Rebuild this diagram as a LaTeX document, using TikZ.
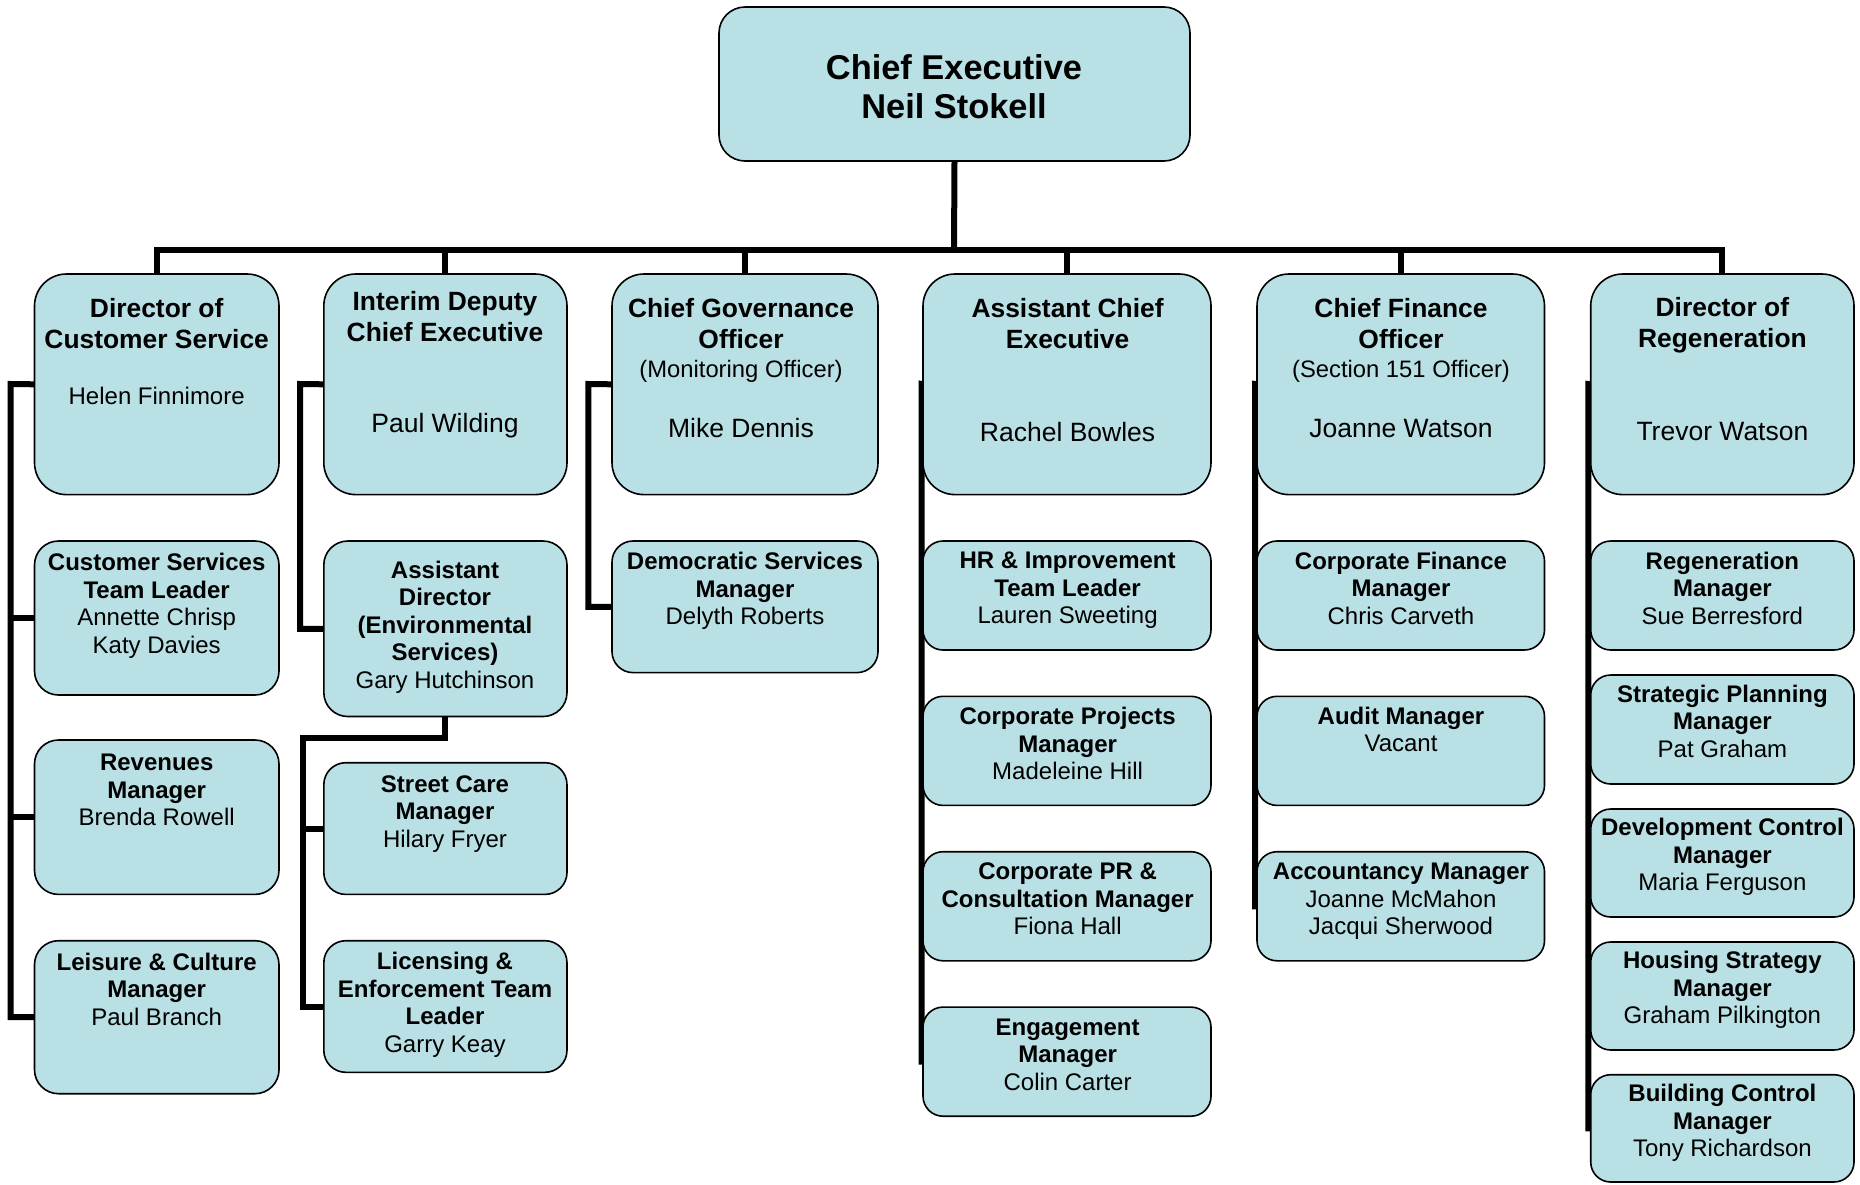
\documentclass[tikz,border=0pt]{standalone}
\usepackage{fontspec}
\setmainfont{Liberation Sans}
\definecolor{boxfill}{RGB}{185,224,228}
\pgfdeclarelayer{bg}
\pgfsetlayers{bg,main}
\tikzset{
  orgbox/.style={draw=black, fill=boxfill, line width=1.6pt, inner sep=0pt, outer sep=0pt},
  conn/.style={draw=black, line width=6pt, line join=miter},
  cetxt/.style={font=\fontsize{34.4}{39}\selectfont\bfseries, align=center},
  ttl/.style={font=\fontsize{26.4}{30.8}\selectfont\bfseries, align=center},
  nm/.style={font=\fontsize{26.5}{30}\selectfont},
  nms/.style={font=\fontsize{24}{28}\selectfont},
  subt/.style={font=\fontsize{23.8}{28}\selectfont},
  ltwo/.style={font=\fontsize{24}{27.5}\selectfont, align=center},
}
\newcommand{\obox}[6]{%
  \pgfmathsetmacro\obw{#4-#2}%
  \pgfmathsetmacro\obh{#5-#3}%
  \node[orgbox, rounded corners=#6pt, minimum width=\obw pt, minimum height=\obh pt] (#1) at ({(#2+#4)/2},{(#3+#5)/2}) {};}
\begin{document}
\begin{tikzpicture}[x=1pt,y=-1pt]
\useasboundingbox (0,0) rectangle (1860,1184);

% ---------- boxes ----------
\obox{ce}{719}{7}{1190}{161}{26}
\obox{dcs}{34.5}{274}{279}{494.6}{32}
\obox{idce}{323.8}{274}{567}{494.6}{32}
\obox{cgo}{612}{274}{878}{494.6}{32}
\obox{ace}{923}{274}{1211}{494.6}{32}
\obox{cfo}{1257}{274}{1544.5}{494.6}{32}
\obox{dor}{1590.7}{274}{1854}{494.6}{32}

\obox{cstl}{34.5}{541}{279}{695}{24}
\obox{rev}{34.5}{740}{279}{894.4}{24}
\obox{lcm}{34.5}{940.7}{279}{1093.7}{24}

\obox{ad}{323.8}{541}{567}{716.5}{24}
\obox{sc}{323.8}{762.7}{567}{894.4}{22}
\obox{lic}{323.8}{940.7}{567}{1072.3}{22}

\obox{dsm}{612}{541}{878}{672.6}{21}

\obox{hr}{923}{541}{1211}{650}{20}
\obox{cp}{923}{696.3}{1211}{805.4}{20}
\obox{pr}{923}{851.7}{1211}{960.8}{20}
\obox{eng}{923}{1007.1}{1211}{1116.2}{20}

\obox{cf}{1257}{541}{1544.5}{650}{20}
\obox{aud}{1257}{696.3}{1544.5}{805.4}{20}
\obox{acc}{1257}{851.7}{1544.5}{960.8}{20}

\obox{reg}{1590.7}{541}{1854}{650}{20}
\obox{sp}{1590.7}{675}{1854}{784}{20}
\obox{dc}{1590.7}{809}{1854}{917}{20}
\obox{hs}{1590.7}{942}{1854}{1050}{20}
\obox{bc}{1590.7}{1074.7}{1854}{1182}{20}

% ---------- texts ----------
\node[cetxt] (ce-t) at (954,87.2) {Chief Executive\\Neil Stokell};

\node[ttl] (dcs-t) at (156.7,323.9) {Director of\\Customer Service};
\node[nms] (dcs-n) at (156.7,396.2) {Helen Finnimore};

\node[ttl] (idce-t) at (445,316.2) {Interim Deputy\\Chief Executive};
\node[nm] (idce-n) at (445,426) {Paul Wilding};

\node[ttl] (cgo-t) at (741,323.9) {Chief Governance\\Officer};
\node[subt] (cgo-s) at (741,371.4) {(Monitoring Officer)};
\node[nm] (cgo-n) at (741,428.2) {Mike Dennis};

\node[ttl] (ace-t) at (1067.6,323.9) {Assistant Chief\\Executive};
\node[nm] (ace-n) at (1067.6,431.8) {Rachel Bowles};

\node[ttl] (cfo-t) at (1401,323.9) {Chief Finance\\Officer};
\node[subt] (cfo-s) at (1401,371.4) {(Section 151 Officer)};
\node[nm] (cfo-n) at (1401,428.2) {Joanne Watson};

\node[ttl] (dor-t) at (1722.4,325.5) {Director of\\Regeneration};
\node[nm] (dor-n) at (1722.4,431.8) {Trevor Watson};

\node[ltwo] (cstl-t) at (156.7,606) {\textbf{Customer Services}\\\textbf{Team Leader}\\Annette Chrisp\\Katy Davies};
\node[ltwo] (rev-t) at (156.7,790) {\textbf{Revenues}\\\textbf{Manager}\\Brenda Rowell};
\node[ltwo] (lcm-t) at (156.7,989.3) {\textbf{Leisure \& Culture}\\\textbf{Manager}\\Paul Branch};

\node[ltwo] (ad-t) at (445,627) {\textbf{Assistant}\\\textbf{Director}\\\textbf{(Environmental}\\\textbf{Services)}\\Gary Hutchinson};
\node[ltwo] (sc-t) at (445,813.8) {\textbf{Street Care}\\\textbf{Manager}\\Hilary Fryer};
\node[ltwo] (lic-t) at (445,1004.8) {\textbf{Licensing \&}\\\textbf{Enforcement Team}\\\textbf{Leader}\\Garry Keay};

\node[ltwo] (dsm-t) at (745,590.8) {\textbf{Democratic Services}\\\textbf{Manager}\\Delyth Roberts};

\node[ltwo] (hr-t) at (1067.6,590.2) {\textbf{HR \& Improvement}\\\textbf{Team Leader}\\Lauren Sweeting};
\node[ltwo] (cp-t) at (1067.6,743.8) {\textbf{Corporate Projects}\\\textbf{Manager}\\Madeleine Hill};
\node[ltwo] (pr-t) at (1067.6,899.2) {\textbf{Corporate PR \&}\\\textbf{Consultation Manager}\\Fiona Hall};
\node[ltwo] (eng-t) at (1067.6,1054.5) {\textbf{Engagement}\\\textbf{Manager}\\Colin Carter};

\node[ltwo] (cf-t) at (1401,588.4) {\textbf{Corporate Finance}\\\textbf{Manager}\\Chris Carveth};
\node[ltwo] (aud-t) at (1401,729.5) {\textbf{Audit Manager}\\Vacant};
\node[ltwo] (acc-t) at (1401,901.6) {\textbf{Accountancy Manager}\\Joanne McMahon\\Jacqui Sherwood};

\node[ltwo] (reg-t) at (1722.4,588.4) {\textbf{Regeneration}\\\textbf{Manager}\\Sue Berresford};
\node[ltwo] (sp-t) at (1722.4,721.2) {\textbf{Strategic Planning}\\\textbf{Manager}\\Pat Graham};
\node[ltwo] (dc-t) at (1722.4,857) {\textbf{Development Control}\\\textbf{Manager}\\Maria Ferguson};
\node[ltwo] (hs-t) at (1722.4,990) {\textbf{Housing Strategy}\\\textbf{Manager}\\Graham Pilkington};
\node[ltwo] (bc-t) at (1722.4,1122.8) {\textbf{Building Control}\\\textbf{Manager}\\Tony Richardson};

% ---------- connectors ----------
\coordinate (bar) at (954,250.3);
\coordinate (v1) at (10.5,384);
\coordinate (v2) at (300,384);
\coordinate (v2b) at (302.5,737.8);
\coordinate (v3) at (588.4,384);
\coordinate (v4) at (921.5,384);
\coordinate (v5) at (1255,384);
\coordinate (v6) at (1588.3,384);

\begin{pgfonlayer}{bg}
\draw[conn] (ce.south) -- (bar);
\draw[conn] (dcs.north) -- (dcs.north |- bar) -- (dor.north |- bar) -- (dor.north);
\draw[conn] (idce.north) -- (idce.north |- bar);
\draw[conn] (cgo.north) -- (cgo.north |- bar);
\draw[conn] (ace.north) -- (ace.north |- bar);
\draw[conn] (cfo.north) -- (cfo.north |- bar);

\draw[conn] (dcs.west) -- (v1) |- (lcm.west);
\draw[conn] (cstl.west) -- (cstl.west -| v1);
\draw[conn] (rev.west) -- (rev.west -| v1);

\draw[conn] (idce.west) -- (v2) |- (ad.west);
\draw[conn] (ad.south) |- (v2b) |- (lic.west);
\draw[conn] (sc.west) -- (sc.west -| v2b);

\draw[conn] (cgo.west) -- (v3) |- (dsm.west);

\draw[conn] (ace.west) -- (v4) |- (eng.west);
\draw[conn] (cfo.west) -- (v5) |- (acc.west);
\draw[conn] (dor.west) -- (v6) |- (bc.west);
\end{pgfonlayer}
\end{tikzpicture}
\end{document}
